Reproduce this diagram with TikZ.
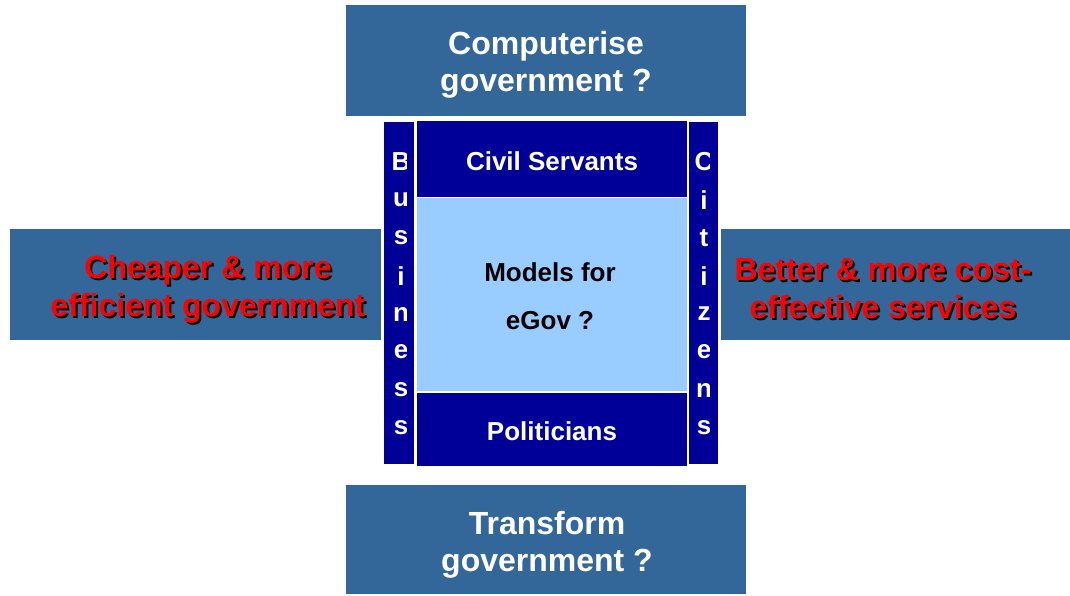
\documentclass[tikz,border=0pt]{standalone}
\usepackage{fontspec}
\setmainfont{Liberation Sans}
\definecolor{steel}{RGB}{51,102,153}
\definecolor{navy}{RGB}{0,0,153}
\definecolor{pale}{RGB}{153,204,255}
\definecolor{redtxt}{RGB}{255,0,0}
\begin{document}
\begin{tikzpicture}[x=1pt,y=-1pt,
  box/.style={fill=steel,draw=none},
  dark/.style={fill=navy,draw=none},
  wtxt/.style={text=white,font=\bfseries\fontsize{32}{37}\selectfont,align=center,inner sep=0pt},
  rtxt/.style={text=redtxt,font=\bfseries\fontsize{32}{38}\selectfont,align=center,inner sep=0pt},
  stxt/.style={text=black,font=\bfseries\fontsize{32}{38}\selectfont,align=center,inner sep=0pt},
  ctxt/.style={font=\bfseries\fontsize{26}{48}\selectfont,align=center,inner sep=0pt},
  ltr/.style={text=white,font=\bfseries\fontsize{26}{30}\selectfont,inner sep=0pt}]
\useasboundingbox (0,0) rectangle (1070,595);
\fill[white] (0,0) rectangle (1070,595);
% outer boxes
\path[box] (346,5) rectangle (746,116);
\node (topbox) at (546,60.5) [minimum width=400pt,minimum height=111pt] {};
\path[box] (346,485) rectangle (746,594);
\node (botbox) at (546,539.5) [minimum width=400pt,minimum height=109pt] {};
\path[box] (10,229) rectangle (381,340);
\node (leftbox) at (195.5,284.5) [minimum width=371pt,minimum height=111pt] {};
\path[box] (721,229) rectangle (1070,340);
\node (rightbox) at (895.5,284.5) [minimum width=349pt,minimum height=111pt] {};
% centre blocks
\path[dark] (384,122) rectangle (414,464);
\path[dark] (689,122) rectangle (718,464);
\path[dark] (417,121) rectangle (687,197);
\path[fill=pale] (417,198) rectangle (687,391);
\path[dark] (417,393) rectangle (687,466);
% texts
\node[wtxt] (ttop) at (546,65) {Computerise\\government ?};
\node[wtxt] (tbot) at (547,545) {Transform\\government ?};
\node[stxt] at (210,291) {Cheaper \& more\\efficient government};
\node[rtxt] (tleft) at (208,289) {Cheaper \& more\\efficient government};
\node[stxt] at (885,291) {Better \& more cost-\\effective services};
\node[rtxt] (tright) at (883,289) {Better \& more cost-\\effective services};
\node[ctxt,text=white] (civil) at (552,161) {Civil Servants};
\node[ctxt,text=white] (pol) at (552,431) {Politicians};
\node[ctxt,text=black] (models) at (550,296) {Models for\\eGov ?};
% vertical words, clipped
\begin{scope}
\clip (384,122) rectangle (406,464);
\foreach \l [count=\i] in {B,u,s,i,n,e,s,s}
  \node[ltr] (bus\i) at (401,124+38*\i) {\l};
\end{scope}
\begin{scope}
\clip (689,122) rectangle (709,464);
\foreach \l [count=\i] in {C,i,t,i,z,e,n,s}
  \node[ltr] (cit\i) at (704,124+38*\i) {\l};
\end{scope}
\end{tikzpicture}
\end{document}
